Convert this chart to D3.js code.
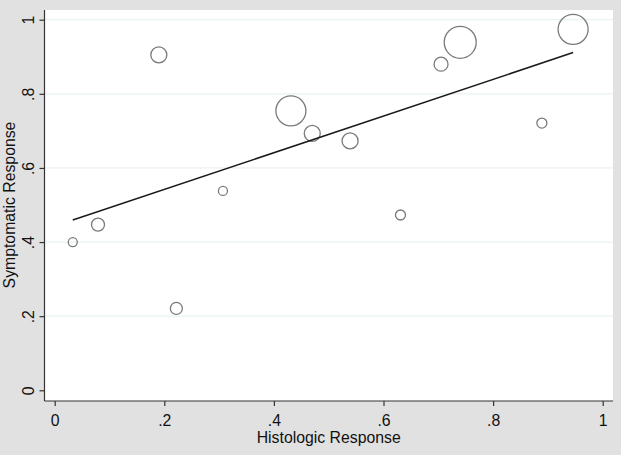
<!DOCTYPE html>
<html><head><meta charset="utf-8">
<script src="https://cdn.jsdelivr.net/npm/d3@7"></script>
<style>body{margin:0;background:#e1e1e1}</style>
</head><body>
<svg id="c" width="621" height="455"></svg>
<script>
const histologic = [0.033,0.079,0.190,0.222,0.307,0.431,0.470,0.539,0.631,0.705,0.740,0.889,0.946];
const symptomatic = [0.400,0.447,0.905,0.221,0.538,0.754,0.693,0.673,0.473,0.880,0.939,0.721,0.974];
const weights = [8,16.5,25,14,8,88,25,25,9.8,19,100,9.8,88];
const fitIntercept = 0.443, fitSlope = 0.495;
const xTicks = [0,0.2,0.4,0.6,0.8,1];
const yTicks = [0,0.2,0.4,0.6,0.8,1];
const fmt = v => v===0?"0":v===1?"1":String(v).replace(/^0/,"");

const svg = d3.select("#c");
svg.append("rect").attr("width",621).attr("height",455).attr("fill","#e1e1e1");
const L=44.5,R=613,T=10,B=401;
svg.append("rect").attr("x",L).attr("y",T).attr("width",R-L).attr("height",B-T).attr("fill","#fff");
const x = d3.scaleLinear().domain([0,1]).range([54.7,602.7]);
const y = d3.scaleLinear().domain([0,1]).range([390.3,19.7]);
const r = d3.scaleSqrt().domain([0,100]).range([0,16]);

svg.append("g").selectAll("line").data(yTicks.filter(d=>d>0)).join("line")
  .attr("x1",L).attr("x2",R).attr("y1",d=>y(d)).attr("y2",d=>y(d))
  .attr("stroke","#eaf2f3").attr("stroke-width",1.2);

const font = "'Liberation Sans', Arial, sans-serif";
const fs = 15.8;
const xa = svg.append("g").attr("transform",`translate(0,${B})`)
  .call(d3.axisBottom(x).tickValues(xTicks).tickFormat(fmt).tickSize(5).tickSizeOuter(0));
xa.select(".domain").attr("d",`M${L},0H${R}`);
const ya = svg.append("g").attr("transform",`translate(${L},0)`)
  .call(d3.axisLeft(y).tickValues(yTicks).tickFormat(fmt).tickSize(5).tickSizeOuter(0));
ya.select(".domain").attr("d",`M0,${T}V${B}`);
[xa,ya].forEach(a=>{
  a.selectAll(".domain").attr("stroke","#333").attr("stroke-width",1.2);
  a.selectAll(".tick line").attr("stroke","#333").attr("stroke-width",1.2);
  a.selectAll("text").attr("font-family",font).attr("font-size",fs).attr("fill","#111");
});
xa.selectAll("text").attr("dy",null).attr("y",25);
ya.selectAll("text").attr("x",null).attr("dy",null).attr("text-anchor","middle")
  .attr("transform","translate(-11,0) rotate(-90)").attr("y",0);

svg.append("g").selectAll("circle").data(histologic).join("circle")
  .attr("cx",d=>x(d)).attr("cy",(d,i)=>y(symptomatic[i])).attr("r",(d,i)=>r(weights[i]))
  .attr("fill","none").attr("stroke","#7a7a7a").attr("stroke-width",1.3);

const x0 = d3.min(histologic), x1 = d3.max(histologic);
svg.append("path").datum([x0,x1])
  .attr("d",d3.line().x(d=>x(d)).y(d=>y(fitIntercept+fitSlope*d)))
  .attr("stroke","#1a1a1a").attr("stroke-width",1.5).attr("fill","none");

svg.append("text").attr("x",(x(0)+x(1))/2).attr("y",443).attr("text-anchor","middle")
  .attr("font-family",font).attr("font-size",fs).attr("fill","#111").text("Histologic Response");
svg.append("text").attr("transform",`translate(15,${(y(0)+y(1))/2}) rotate(-90)`).attr("text-anchor","middle")
  .attr("font-family",font).attr("font-size",fs).attr("fill","#111").text("Symptomatic Response");
</script>
</body></html>
